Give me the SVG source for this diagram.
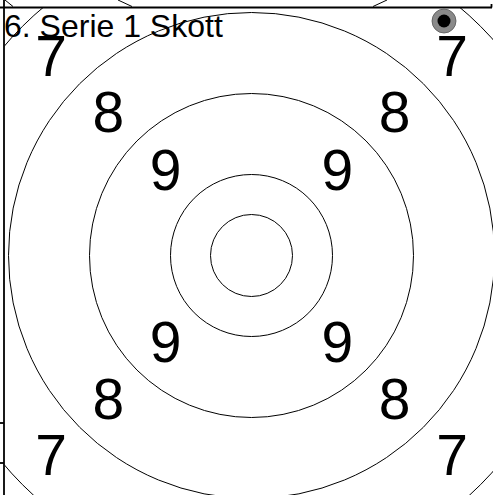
<svg xmlns="http://www.w3.org/2000/svg" width="493" height="495" viewBox="0 0 493 495">
  <style>
    .ring { fill: none; stroke: #000; stroke-width: 1; }
    .axis { fill: none; stroke: #000; stroke-width: 1.8; }
    .thin { fill: none; stroke: #000; stroke-width: 1; }
    .num { font-family: "Liberation Sans", Arial, sans-serif; font-size: 57px; fill: #000; text-anchor: middle; }
    .title { font-family: "Liberation Sans", Arial, sans-serif; font-size: 32px; fill: #000; }
  </style>
  <defs>
    <clipPath id="plot">
      <rect x="4.5" y="7.5" width="490" height="490"/>
    </clipPath>
  </defs>
  <rect x="0" y="0" width="493" height="495" fill="#fff"/>

  <g id="outside-arcs">
    <line class="thin" x1="5" y1="0" x2="13" y2="6.5"/>
    <line class="thin" x1="118" y1="0" x2="132" y2="6.5"/>
    <line class="thin" x1="373" y1="6.5" x2="387" y2="0"/>
  </g>

  <g id="target" clip-path="url(#plot)">
    <circle class="ring" cx="251.5" cy="255.5" r="41"/>
    <circle class="ring" cx="251.5" cy="255.5" r="81"/>
    <circle class="ring" cx="251.5" cy="255.5" r="162"/>
    <circle class="ring" cx="251.5" cy="255.5" r="243"/>
    <circle class="ring" cx="251.5" cy="255.5" r="324"/>
  </g>

  <g id="axes">
    <line class="axis" x1="0" y1="7.5" x2="492" y2="7.5"/>
    <line class="axis" x1="491.5" y1="4" x2="491.5" y2="7.5"/>
    <line class="axis" x1="4" y1="0" x2="4" y2="495"/>
    <line class="axis" x1="0" y1="423" x2="4" y2="423"/>
    <line class="axis" x1="0" y1="463" x2="4" y2="463"/>
  </g>

  <g id="ring-numbers">
    <text class="num" x="51" y="75.5">7</text>
    <text class="num" x="452" y="75.5">7</text>
    <text class="num" x="51" y="475">7</text>
    <text class="num" x="452" y="475">7</text>
    <text class="num" x="108.3" y="132">8</text>
    <text class="num" x="394.7" y="132">8</text>
    <text class="num" x="108.3" y="419">8</text>
    <text class="num" x="394.7" y="419">8</text>
    <text class="num" x="165.6" y="189.5">9</text>
    <text class="num" x="337.4" y="189.5">9</text>
    <text class="num" x="165.6" y="361.5">9</text>
    <text class="num" x="337.4" y="361.5">9</text>
  </g>

  <g id="title">
    <text class="title" x="4" y="37">6. Serie 1 Skott</text>
  </g>

  <g id="shot">
    <circle cx="444" cy="21" r="12" fill="#8a8a8a" stroke="#555" stroke-width="0.8"/>
    <circle cx="444" cy="21" r="6.5" fill="#000"/>
  </g>
</svg>
